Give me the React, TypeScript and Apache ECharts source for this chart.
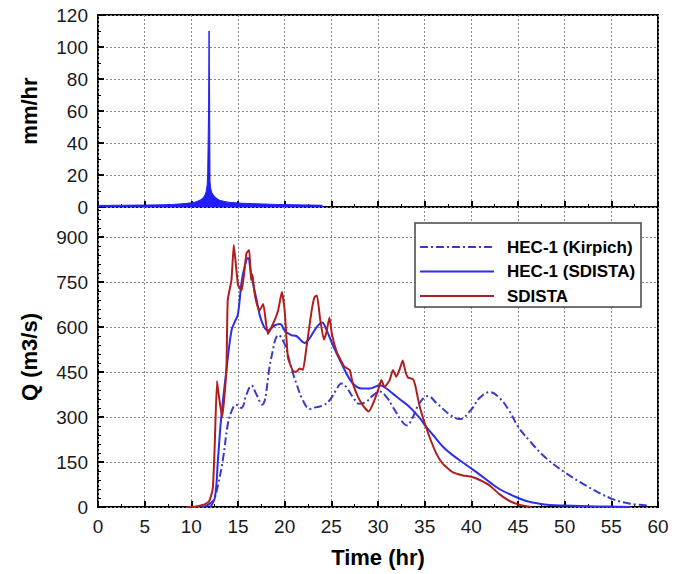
import React, { useEffect, useRef } from "react";
import * as echarts from "echarts";

// Rainfall hyetograph (mm/hr)
const rainT = [0, 1, 2, 3, 4, 5, 6, 7, 8, 9, 10, 10.5, 11, 11.3, 11.5, 11.6, 11.7, 11.75, 11.8, 11.85, 11.9, 11.95, 12.0, 12.05, 12.1, 12.2, 12.3, 12.5, 12.8, 13, 13.5, 14, 15, 16, 17, 18, 19, 20, 21, 22, 23, 24, 24.1];
const rainV = [1.0, 1.0, 1.1, 1.1, 1.2, 1.2, 1.3, 1.4, 1.6, 2.0, 2.6, 3.2, 4.5, 6, 8, 10, 14, 20, 40, 62, 110, 76, 16, 13, 11, 9, 8, 6.5, 5, 4.3, 3.5, 3, 2.5, 2.2, 2, 1.8, 1.6, 1.5, 1.4, 1.3, 1.2, 1.1, 0];

// HEC-1 (Kirpich)
const kirpichT = [12, 12.36, 12.86, 13.4, 13.9, 14.3, 14.8, 15.36, 15.9, 16.45, 16.9, 17.57, 18.57, 19.35, 20, 20.7, 21.25, 21.96, 22.7, 23.4, 24.1, 24.8, 25.5, 26.07, 26.6, 27.3, 28, 28.7, 29.46, 30.18, 30.9, 31.6, 32.5, 33.1, 33.6, 34.46, 35.36, 36.25, 37.7, 38.75, 40, 40.9, 42, 43, 44.1, 45, 46.4, 48, 50, 52.3, 55, 57, 59.1];
const kirpichQ = [0, 17, 73, 162, 274, 319, 341, 330, 375, 405, 380, 341, 498, 573, 543, 465, 412, 355, 327, 333, 338, 355, 389, 412, 400, 367, 344, 350, 372, 385, 367, 333, 288, 272, 291, 347, 370, 347, 308, 293, 325, 364, 383, 364, 319, 268, 215, 163, 116, 71, 28, 11, 5];

// HEC-1 (SDISTA)
const hecT = [11, 11.5, 12, 12.5, 12.86, 13.2, 13.75, 14.3, 14.64, 15, 15.36, 15.7, 16.07, 16.4, 17, 17.5, 18.2, 18.9, 19.5, 20, 20.7, 21.25, 22.14, 22.7, 23.4, 24, 24.46, 25.2, 25.9, 26.6, 27.3, 28.2, 29.1, 30.2, 30.9, 31.6, 32.3, 33.3, 34.46, 35, 35.9, 36.96, 38, 39.5, 40.9, 42, 43, 44.5, 45.9, 47.3, 48.4, 50, 53.4, 57];
const hecQ = [0, 3, 12, 28, 162, 297, 453, 588, 616, 644, 745, 800, 830, 778, 689, 622, 588, 605, 610, 588, 573, 570, 547, 564, 598, 615, 592, 536, 491, 446, 412, 395, 395, 406, 395, 378, 360, 336, 297, 274, 240, 201, 173, 139, 108, 82, 60, 37, 20, 11, 7, 5, 2, 0];

// SDISTA
const sdT = [9.5, 10, 10.5, 11, 11.5, 11.96, 12.3, 12.5, 12.75, 12.95, 13.3, 13.75, 13.9, 14.3, 14.55, 15, 15.4, 15.9, 16.2, 16.4, 16.55, 16.7, 17, 17.3, 17.7, 18.2, 18.75, 19.3, 19.7, 20, 20.35, 20.9, 21.25, 21.6, 21.96, 22.3, 22.86, 23.2, 23.46, 23.8, 24.2, 24.46, 24.8, 25.07, 25.5, 25.9, 26.4, 26.96, 27.3, 27.86, 28.4, 29, 29.46, 30, 30.36, 30.7, 31.25, 31.6, 31.96, 32.3, 32.65, 32.96, 33.2, 33.75, 34, 34.46, 35, 35.5, 36.25, 36.96, 38, 39.1, 40, 40.9, 42, 43, 44.1, 45.2, 46.4];
const sdQ = [0, 0, 2, 5, 10, 22, 62, 200, 420, 370, 300, 453, 690, 756, 873, 740, 722, 845, 857, 756, 775, 730, 678, 655, 677, 577, 610, 655, 717, 655, 498, 453, 451, 462, 457, 524, 649, 700, 705, 626, 558, 581, 632, 575, 524, 496, 468, 457, 412, 367, 338, 318, 344, 389, 423, 400, 423, 457, 434, 457, 488, 449, 432, 426, 404, 336, 280, 235, 178, 144, 116, 105, 101, 90, 71, 43, 20, 7, 0];

const xTicks = [0, 5, 10, 15, 20, 25, 30, 35, 40, 45, 50, 55, 60];
const legendNames = ["HEC-1 (Kirpich)", "HEC-1 (SDISTA)", "SDISTA"];

const zip = (a: number[], b: number[]) => a.map((v, i) => [v, b[i]]);

const FONT = "'Liberation Sans', Arial, Helvetica, sans-serif";
const C_KIR = "#3b3bc9";
const C_HEC = "#2e2ee6";
const C_SD = "#b01e1e";
const C_RAIN = "#1f1ff5";
const DASHDOT = [8, 3, 2, 3];

export default function App() {
  const ref = useRef<HTMLDivElement>(null);
  useEffect(() => {
    if (!ref.current) return;
    const chart = echarts.init(ref.current, null, { renderer: "svg" });
    const gridLine = { show: true, lineStyle: { color: "#8a8a8a", type: [2, 2], width: 1 } };
    const tick = { show: true, inside: true, length: 6, lineStyle: { color: "#000", width: 2 } };
    const minor = (n: number) => ({ show: true, splitNumber: n, length: 3, lineStyle: { color: "#000", width: 1 } });
    const label = { color: "#1a1a1a", fontSize: 19, fontFamily: FONT, margin: 10 };
    const nameStyle = { fontSize: 22, fontWeight: "bold" as const, fontFamily: FONT, color: "#000" };

    const legendRows = legendNames.map((n, i) => {
      const y = 247 + i * 24.5;
      const color = [C_KIR, C_HEC, C_SD][i];
      return [
        {
          type: "line",
          shape: { x1: 420, y1: y, x2: 494, y2: y },
          style: { stroke: color, lineWidth: 2, lineDash: i === 0 ? DASHDOT : null },
          z: 101,
        },
        {
          type: "text",
          x: 507,
          y: y,
          style: { text: n, fontSize: 17, fontWeight: "bold", fontFamily: FONT, fill: "#000", textVerticalAlign: "middle" },
          z: 101,
        },
      ];
    }).flat();

    chart.setOption({
      animation: false,
      backgroundColor: "#fff",
      grid: [
        { left: 98, top: 15, width: 560, height: 192, show: true, borderColor: "#000", borderWidth: 2, backgroundColor: "transparent" },
        { left: 98, top: 207, width: 560, height: 300, show: true, borderColor: "#000", borderWidth: 2, backgroundColor: "transparent" },
      ],
      xAxis: [
        {
          type: "value", gridIndex: 0, min: xTicks[0], max: xTicks[xTicks.length - 1], interval: 5,
          axisLine: { show: false }, axisTick: tick, minorTick: minor(2), axisLabel: { show: false }, splitLine: gridLine,
        },
        {
          type: "value", gridIndex: 1, min: xTicks[0], max: xTicks[xTicks.length - 1], interval: 5,
          axisLine: { show: false }, axisTick: tick, minorTick: minor(2), axisLabel: label, splitLine: gridLine,
          name: "Time (hr)", nameLocation: "middle", nameGap: 39, nameTextStyle: nameStyle,
        },
      ],
      yAxis: [
        {
          type: "value", gridIndex: 0, min: 0, max: 120, interval: 20,
          axisLine: { show: false }, axisTick: tick, minorTick: minor(2), axisLabel: label, splitLine: gridLine,
          name: "mm/hr", nameLocation: "middle", nameGap: 58, nameRotate: 90, nameTextStyle: nameStyle,
        },
        {
          type: "value", gridIndex: 1, min: 0, max: 1000, interval: 150,
          axisLine: { show: false }, axisTick: tick, minorTick: minor(5),
          axisLabel: { ...label, showMaxLabel: false, formatter: (v: number) => (v > 900 ? "" : String(v)) },
          splitLine: gridLine,
          name: "Q (m3/s)", nameLocation: "middle", nameGap: 58, nameRotate: 90, nameTextStyle: nameStyle,
        },
      ],
      series: [
        {
          name: "Rainfall", type: "line", xAxisIndex: 0, yAxisIndex: 0, data: zip(rainT, rainV),
          symbol: "none", lineStyle: { color: C_RAIN, width: 1 }, areaStyle: { color: C_RAIN, opacity: 1 },
        },
        {
          name: legendNames[0], type: "line", xAxisIndex: 1, yAxisIndex: 1, data: zip(kirpichT, kirpichQ),
          symbol: "none", smooth: 0.4, lineStyle: { color: C_KIR, width: 2, type: DASHDOT },
        },
        {
          name: legendNames[1], type: "line", xAxisIndex: 1, yAxisIndex: 1, data: zip(hecT, hecQ),
          symbol: "none", smooth: 0.4, lineStyle: { color: C_HEC, width: 2 },
        },
        {
          name: legendNames[2], type: "line", xAxisIndex: 1, yAxisIndex: 1, data: zip(sdT, sdQ),
          symbol: "none", smooth: 0.15, lineStyle: { color: C_SD, width: 2 },
        },
      ],
      graphic: [
        {
          type: "rect", shape: { x: 415, y: 223, width: 226, height: 84 },
          style: { fill: "#fff", stroke: "#444", lineWidth: 1.5 }, z: 100,
        },
        ...legendRows,
      ],
    });
    return () => chart.dispose();
  }, []);
  return <div ref={ref} style={{ position: "fixed", left: 0, top: 0, width: 685, height: 574 }} />;
}
